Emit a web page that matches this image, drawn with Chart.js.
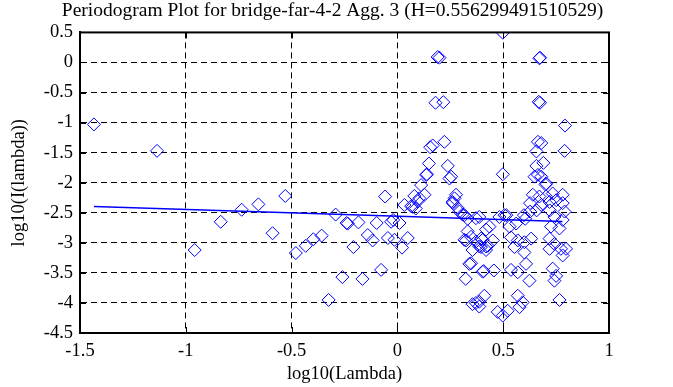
<!DOCTYPE html>
<html>
<head>
<meta charset="utf-8">
<script src="https://cdn.jsdelivr.net/npm/chart.js@4"></script>
<style>
  body { margin: 0; background: #fff; }
  #wrap { width: 673px; height: 387px; }
</style>
</head>
<body>
<div id="wrap"><canvas id="grafico" width="673" height="387"></canvas></div>
<script>
// periodogram points
const logLambda = [
  -1.434, -1.136, -0.958, -0.835, -0.736, -0.657, -0.59, -0.53, -0.48, -0.433,
  -0.397, -0.358, -0.325, -0.292, -0.26, -0.24, -0.235, -0.208, -0.184, -0.165,
  -0.14, -0.117, -0.098, -0.077, -0.058, -0.045, -0.03, -0.02, -0.014, 0.01,
  0.022, 0.033, 0.049, 0.065, 0.072, 0.08, 0.087, 0.096, 0.104, 0.112,
  0.128, 0.136, 0.14, 0.149, 0.155, 0.167, 0.18, 0.19, 0.199, 0.217,
  0.222, 0.238, 0.246, 0.254, 0.261, 0.262, 0.27, 0.277, 0.285, 0.293,
  0.308, 0.317, 0.317, 0.323, 0.325, 0.332, 0.332, 0.34, 0.348, 0.348,
  0.355, 0.355, 0.371, 0.371, 0.371, 0.387, 0.387, 0.387, 0.387, 0.395,
  0.395, 0.403, 0.403, 0.408, 0.411, 0.419, 0.419, 0.419, 0.427, 0.435,
  0.451, 0.456, 0.474, 0.482, 0.498, 0.498, 0.498, 0.506, 0.515, 0.521,
  0.53, 0.537, 0.537, 0.553, 0.561, 0.569, 0.569, 0.569, 0.577, 0.592,
  0.598, 0.6, 0.6, 0.604, 0.608, 0.624, 0.627, 0.627, 0.632, 0.64,
  0.648, 0.657, 0.657, 0.658, 0.664, 0.664, 0.668, 0.671, 0.671, 0.674,
  0.674, 0.68, 0.68, 0.68, 0.69, 0.7, 0.703, 0.703, 0.719, 0.719,
  0.719, 0.72, 0.726, 0.734, 0.734, 0.742, 0.742, 0.742, 0.75, 0.751,
  0.766, 0.766, 0.773, 0.781, 0.781, 0.781, 0.781, 0.79, 0.79, 0.792,
  0.797
];
const logPower = [
  -1.03, -1.47, -3.12, -2.65, -2.45, -2.36, -2.84, -2.22, -3.17, -3.05,
  -2.94, -2.88, -3.95, -2.53, -3.57, -2.67, -2.68, -3.07, -2.66, -3.6,
  -2.87, -2.96, -2.67, -3.45, -2.23, -2.92, -2.65, -2.62, -2.95, -2.67,
  -3.08, -2.37, -2.92, -2.39, -2.4, -2.22, -2.43, -2.31, -2.26, -2.04,
  -2.2, -1.87, -1.86, -1.68, -1.41, -1.38, -0.67, 0.09, 0.08, -0.66,
  -1.32, -1.72, -1.93, -1.9, -2.32, -2.34, -2.26, -2.2, -2.42, -2.48,
  -2.53, -2.54, -2.95, -3.6, -2.96, -2.6, -2.81, -3.35, -2.9, -3.34,
  -3.12, -4.02, -2.59, -2.98, -4.0, -2.57, -3.06, -3.98, -4.06, -2.93,
  -3.07, -2.95, -3.48, -3.47, -3.88, -2.78, -3.12, -3.06, -3.05, -2.73,
  -2.96, -3.46, -4.15, -2.57, 0.495, -1.86, -4.21, -2.54, -2.54, -4.13,
  -2.73, -2.91, -3.45, -3.07, -2.68, -2.96, -3.49, -3.88, -4.07, -3.99,
  -2.54, -2.99, -3.16, -2.6, -3.35, -3.63, -2.34, -2.48, -2.93, -2.2,
  -1.9, -1.48, -1.72, -2.46, -1.32, -1.87, -0.655, 0.07, -2.23, 0.08,
  -0.67, -1.34, -1.9, -2.37, -1.67, -2.03, -2.01, -2.23, -2.32, -2.93,
  -3.1, -2.46, -2.73, -2.18, -3.43, -2.57, -3.02, -3.63, -3.55, -2.29,
  -2.76, -3.95, -3.1, -2.2, -2.34, -2.62, -3.21, -1.47, -2.48, -1.05,
  -3.1
];
// least squares line (two ends)
const fitX = [-1.434, 0.78];
const fitY = [-2.395, -2.644];

const xTicks = [-1.5, -1, -0.5, 0, 0.5, 1];
const xTickLabels = ['-1.5', '-1', '-0.5', '0', '0.5', '1'];
const yTicks = [0.5, 0, -0.5, -1, -1.5, -2, -2.5, -3, -3.5, -4, -4.5];
const yTickLabels = ['0.5', '0', '-0.5', '-1', '-1.5', '-2', '-2.5', '-3', '-3.5', '-4', '-4.5'];

const serif = 'Liberation Serif';
const azul = '#0000ff';

// marco negro y marcas cortas hacia dentro
const marco = {
    id: 'marco',
    afterDraw(chart) {
        const { ctx, chartArea: a, scales } = chart;
        ctx.save();
        ctx.strokeStyle = '#000';
        ctx.lineWidth = 1;
        ctx.beginPath();
        xTicks.forEach(function (v) {
            const px = Math.round(scales.x.getPixelForValue(v)) + 0.5;
            ctx.moveTo(px, a.bottom); ctx.lineTo(px, a.bottom - 6);
            ctx.moveTo(px, a.top); ctx.lineTo(px, a.top + 6);
        });
        yTicks.forEach(function (v) {
            const py = Math.round(scales.y.getPixelForValue(v)) + 0.5;
            ctx.moveTo(a.left, py); ctx.lineTo(a.left + 6, py);
            ctx.moveTo(a.right, py); ctx.lineTo(a.right - 6, py);
        });
        ctx.stroke();
        ctx.lineWidth = 2;
        ctx.strokeRect(a.left, a.top, a.right - a.left, a.bottom - a.top);
        ctx.restore();
    }
};

const puntos = logLambda.map(function (x, i) { return { x: x, y: logPower[i] }; });
const recta = fitX.map(function (x, i) { return { x: x, y: fitY[i] }; });

new Chart(document.getElementById('grafico').getContext('2d'), {
    type: 'scatter',
    data: {
        datasets: [{
            data: puntos,
            pointStyle: 'rectRot',
            pointRadius: 6.5,
            pointBorderWidth: 1,
            borderColor: azul,
            backgroundColor: 'rgba(0,0,0,0)',
            order: 2
        }, {
            type: 'line',
            data: recta,
            borderColor: azul,
            borderWidth: 1.5,
            pointRadius: 0,
            fill: false,
            order: 1
        }]
    },
    options: {
        responsive: false,
        animation: false,
        layout: { padding: { left: 4, right: 12, top: 0, bottom: 2 } },
        plugins: {
            legend: { display: false },
            tooltip: { enabled: false },
            title: {
                display: true,
                text: 'Periodogram Plot for bridge-far-4-2 Agg. 3 (H=0.556299491510529)',
                color: '#000',
                font: { family: serif, size: 19.5, weight: 'normal', lineHeight: 1.15 },
                padding: { top: 0, bottom: 10 }
            }
        },
        scales: {
            x: {
                type: 'linear',
                min: -1.5,
                max: 1,
                afterBuildTicks: function (s) { s.ticks = xTicks.map(function (v) { return { value: v }; }); },
                afterFit: function (s) { s.height = 52; },
                ticks: {
                    color: '#000',
                    font: { family: serif, size: 18.5 },
                    padding: 7,
                    maxRotation: 0,
                    callback: function (v) { return xTickLabels[xTicks.indexOf(v)]; }
                },
                grid: { color: '#000', lineWidth: 1, drawTicks: false },
                border: { display: true, color: '#000', width: 2, dash: [6, 4] },
                title: {
                    display: true,
                    text: 'log10(Lambda)',
                    color: '#000',
                    font: { family: serif, size: 18.5 },
                    padding: { top: 0, bottom: 0 }
                }
            },
            y: {
                type: 'linear',
                min: -4.5,
                max: 0.5,
                afterBuildTicks: function (s) { s.ticks = yTicks.map(function (v) { return { value: v }; }); },
                afterFit: function (s) { s.width = 76; },
                ticks: {
                    color: '#000',
                    font: { family: serif, size: 18.5 },
                    padding: 7,
                    callback: function (v) { return yTickLabels[yTicks.indexOf(v)]; }
                },
                grid: { color: '#000', lineWidth: 1, drawTicks: false },
                border: { display: true, color: '#000', width: 2, dash: [6, 4] },
                title: {
                    display: true,
                    text: 'log10(I(lambda))',
                    color: '#000',
                    font: { family: serif, size: 18.5 },
                    padding: { top: 4, bottom: 0 }
                }
            },
            derecha: {
                type: 'linear',
                position: 'right',
                min: -4.5,
                max: 0.5,
                afterFit: function (s) { s.width = 52; },
                ticks: { display: false },
                grid: { display: false },
                border: { display: false }
            }
        }
    },
    plugins: [marco]
});
</script>
</body>
</html>
